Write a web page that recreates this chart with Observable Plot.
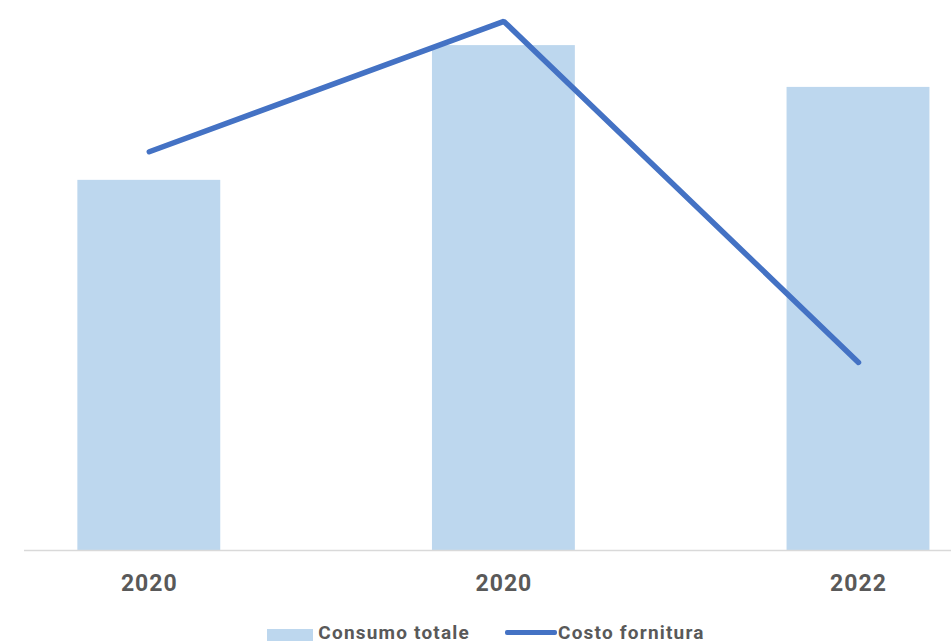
<!DOCTYPE html>
<html>
<head>
<meta charset="utf-8">
<script src="https://cdn.jsdelivr.net/npm/d3@7"></script>
<script src="https://cdn.jsdelivr.net/npm/@observablehq/plot@0.6"></script>
<style>
  html, body { margin: 0; padding: 0; background: #fff; overflow: hidden; }
  #wrap { position: relative; width: 951px; height: 641px; }
  #legend {
    position: absolute; left: 0; top: 610px; width: 951px; height: 31px;
    display: flex; justify-content: center; align-items: flex-end;
    font-family: Roboto, sans-serif; font-weight: 700; font-size: 19px; color: #595959;
    letter-spacing: 1.2px;
    padding-left: 21px; box-sizing: border-box;
  }
  .item { display: flex; align-items: center; line-height: 19px; margin-bottom: -1px; }
  .sw-rect { width: 46px; height: 12px; background: #BDD7EE; margin-right: 5px; margin-top: 4px; }
  .sw-line { width: 52px; height: 5px; background: #4472C4; border-radius: 2px; margin-right: 1px; }
  .gap { width: 35px; }
</style>
</head>
<body>
<div id="wrap">
  <div id="chart"></div>
  <div id="legend">
    <div class="item"><div class="sw-rect"></div><span>Consumo totale</span></div>
    <div class="gap"></div>
    <div class="item"><div class="sw-line"></div><span>Costo fornitura</span></div>
  </div>
</div>
<script>
const anni = ["2020", "2020", "2022"];
const consumoTotale = [67.3, 91.8, 84.2];
const costoFornitura = [72.5, 96.2, 34.2];

const data = anni.map((a, i) => ({i, anno: a, consumo: consumoTotale[i], costo: costoFornitura[i]}));

const chart = Plot.plot({
  width: 951,
  height: 610,
  marginTop: 0,
  marginBottom: 60,
  marginLeft: 24,
  marginRight: 0,
  style: {fontFamily: "Roboto, sans-serif", fontWeight: "700", fontSize: "23px", color: "#595959", background: "#fff", letterSpacing: "1px"},
  x: {type: "band", domain: [0, 1, 2], range: [-28.5, 1035.3], paddingInner: 0.597, paddingOuter: 0.2985, align: 0.5, round: false},
  y: {domain: [0, 100], range: [550, 0], axis: null},
  marks: [
    Plot.barY(data, {x: "i", y: "consumo", fill: "#BDD7EE"}),
    Plot.ruleY([0], {stroke: "#D9D9D9", strokeWidth: 1.5}),
    Plot.line(data, {x: "i", y: "costo", stroke: "#4472C4", strokeWidth: 5.5, strokeLinejoin: "miter", strokeLinecap: "round"}),
    Plot.axisX({tickSize: 0, tickPadding: 24, tickFormat: i => anni[i], fill: "#595959", label: null})
  ]
});
document.getElementById("chart").appendChild(chart);
</script>
</body>
</html>
